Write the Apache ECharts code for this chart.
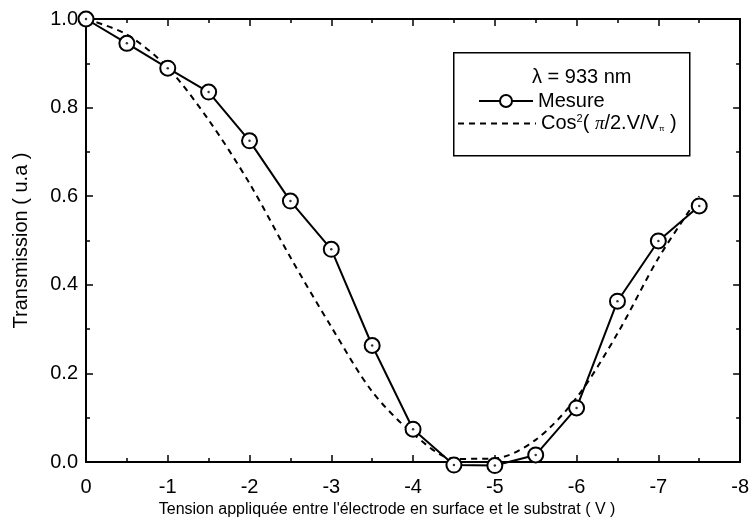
<!DOCTYPE html>
<html>
<head>
<meta charset="utf-8">
<script src="https://cdn.jsdelivr.net/npm/echarts@6/dist/echarts.min.js"></script>
<style>
html,body{margin:0;padding:0;background:#fff;}
#chart{width:752px;height:530px;}
</style>
</head>
<body>
<div id="chart"></div>
<script>
// Tension (V)
var voltages = [0, -0.5, -1, -1.5, -2, -2.5, -3, -3.5, -4, -4.5, -5, -5.5, -6, -6.5, -7, -7.5];
// Mesure
var mesure = [1.0, 0.945, 0.889, 0.835, 0.725, 0.589, 0.48, 0.263, 0.074, -0.007, -0.008, 0.016, 0.122, 0.363, 0.499, 0.578];
// Cos^2(pi/2 . V/Vpi) curve
var theory = [1.0, 0.965, 0.89, 0.772, 0.629, 0.462, 0.305, 0.159, 0.064, 0.007, 0.008, 0.05, 0.145, 0.29, 0.46, 0.60];
var xTicks = ['0', '-1', '-2', '-3', '-4', '-5', '-6', '-7', '-8'];
var yTicks = ['0.0', '0.2', '0.4', '0.6', '0.8', '1.0'];

var FONT = "'Liberation Sans', Arial, sans-serif";
function pairs(xs, ys) { return xs.map(function (x, i) { return [x, ys[i]]; }); }

var chart = echarts.init(document.getElementById('chart'), null, {renderer: 'canvas'});

function xAxisCfg(pos, showLabel) {
  return {
    type: 'value', position: pos, min: -8, max: 0, interval: 1, inverse: true,
    axisLine: {show: true, onZero: false, lineStyle: {color: '#000', width: 2}},
    axisTick: {show: true, inside: true, length: 7, lineStyle: {color: '#000', width: 1.5}},
    minorTick: {show: true, splitNumber: 2, length: 4, lineStyle: {color: '#000', width: 1.5}},
    splitLine: {show: false},
    axisLabel: {show: showLabel, color: '#000', fontFamily: FONT, fontSize: 20, margin: 15,
      formatter: function (v) { var i = Math.round(-v); return xTicks[i] !== undefined ? xTicks[i] : ''; }},
    name: showLabel ? "Tension appliquée entre l'électrode en surface et le substrat ( V )" : '',
    nameLocation: 'middle', nameGap: 38,
    nameTextStyle: {color: '#000', fontFamily: FONT, fontSize: 16, padding: [0, 52, 0, 0]}
  };
}
function yAxisCfg(pos, showLabel) {
  return {
    type: 'value', position: pos, min: 0, max: 1, interval: 0.2,
    axisLine: {show: true, onZero: false, lineStyle: {color: '#000', width: 2}},
    axisTick: {show: true, inside: true, length: 7, lineStyle: {color: '#000', width: 1.5}},
    minorTick: {show: true, splitNumber: 2, length: 4, lineStyle: {color: '#000', width: 1.5}},
    splitLine: {show: false},
    axisLabel: {show: showLabel, color: '#000', fontFamily: FONT, fontSize: 20, margin: 8,
      formatter: function (v) { var i = Math.round(v * 5); return yTicks[i] !== undefined ? yTicks[i] : ''; }},
    name: showLabel ? 'Transmission ( u.a )' : '',
    nameLocation: 'middle', nameGap: 55,
    nameTextStyle: {color: '#000', fontFamily: FONT, fontSize: 20}
  };
}

chart.setOption({
  animation: false,
  backgroundColor: '#fff',
  grid: {left: 86, right: 7, top: 19, bottom: 68, containLabel: false},
  xAxis: [xAxisCfg('bottom', true), xAxisCfg('top', false)],
  yAxis: [yAxisCfg('left', true), yAxisCfg('right', false)],
  legend: [
    {data: ['Mesure'], orient: 'vertical', left: 478, top: 91, itemWidth: 54, itemHeight: 15, itemGap: 4,
     z: 20, textStyle: {color: '#000', fontFamily: FONT, fontSize: 20}, selectedMode: false, padding: 0},
    {data: ['Cos'], orient: 'vertical', left: 457, top: 113, itemWidth: 78, itemHeight: 15, itemGap: 4,
     z: 20, selectedMode: false, padding: 0,
     itemStyle: {color: 'rgba(0,0,0,0)', borderWidth: 0, opacity: 0},
     formatter: function () { return '{a|Cos}{sup|2}{a|( }{i|π}{a|/2.V/V}{sub|π}{a| )}'; },
     textStyle: {color: '#000', fontFamily: FONT, fontSize: 20,
       rich: {
         a: {fontFamily: FONT, fontSize: 20, color: '#000'},
         i: {fontFamily: "'Liberation Serif', serif", fontStyle: 'italic', fontSize: 19, color: '#000'},
         sup: {fontFamily: FONT, fontSize: 11, color: '#000', padding: [0, 0, 10, 0]},
         sub: {fontFamily: FONT, fontSize: 8, color: '#000', padding: [10, 0, 0, 0]}
       }}}
  ],
  graphic: [
    {type: 'rect', left: 453, top: 52, shape: {width: 236, height: 103},
     style: {fill: '#fff', stroke: '#000', lineWidth: 1.5}, z: 1},
    {type: 'text', left: 532, top: 67, z: 21,
     style: {text: 'λ = 933 nm', fill: '#000', font: "20px 'Liberation Sans', Arial, sans-serif"}}
  ],
  series: [
    {name: 'Cos', type: 'line', xAxisIndex: 0, yAxisIndex: 0, data: pairs(voltages, theory),
     smooth: 0.3, symbol: 'none', clip: false, z: 3,
     lineStyle: {color: '#000', width: 2, type: [6, 5]}, itemStyle: {color: '#000'}},
    {name: 'Mesure', type: 'line', xAxisIndex: 0, yAxisIndex: 0, data: pairs(voltages, mesure),
     symbol: 'emptyCircle', symbolSize: 15, clip: false, z: 4,
     lineStyle: {color: '#000', width: 2}, itemStyle: {color: '#000', borderWidth: 1.5}},
    {name: 'dots', type: 'scatter', xAxisIndex: 0, yAxisIndex: 0, data: pairs(voltages, mesure),
     symbol: 'circle', symbolSize: 2.5, clip: false, z: 5, itemStyle: {color: '#000'}, silent: true}
  ]
});
</script>
</body>
</html>
